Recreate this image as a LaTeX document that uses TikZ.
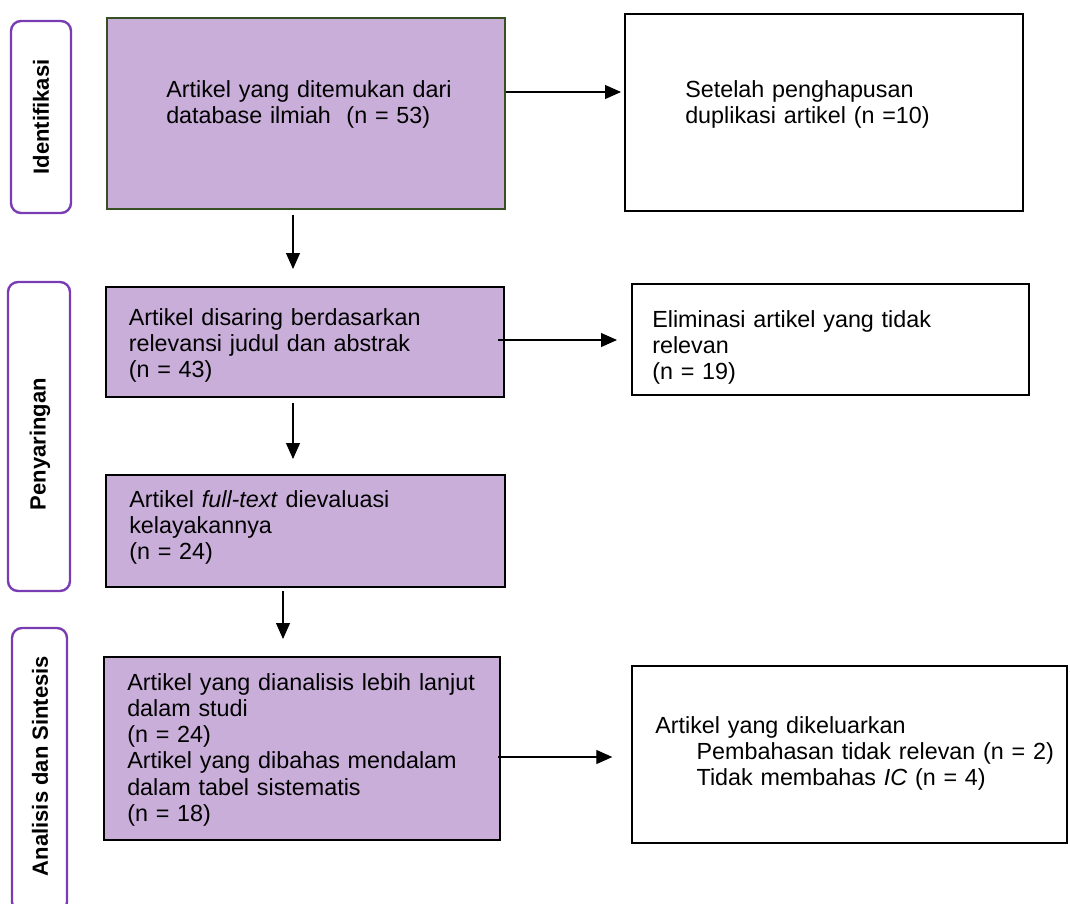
\documentclass[tikz,border=0pt]{standalone}
\usepackage{fontspec}
\setmainfont{Liberation Sans}
\usetikzlibrary{arrows.meta,fit}
\definecolor{boxfill}{RGB}{202,174,218}
\definecolor{sidepurple}{RGB}{122,60,178}
\definecolor{darkgreen}{RGB}{55,80,35}
\begin{document}
\begin{tikzpicture}[x=0.75pt,y=-0.75pt,
  box/.style={draw=black, line width=1.5pt, inner sep=0pt},
  pbox/.style={box, fill=boxfill},
  side/.style={draw=sidepurple, line width=1.8pt, rounded corners=7.5pt, inner sep=0pt},
  txt/.style={inner sep=0pt, anchor=base west, align=left, text width=330pt, font=\fontsize{17.5}{19.7}\selectfont},
  lab/.style={rotate=90, font=\fontsize{16.5}{19}\selectfont\bfseries, inner sep=0pt},
  arr/.style={-{Triangle[length=12pt,width=10.5pt]}, line width=0.8pt}]
\useasboundingbox (0,0) rectangle (1070,903);

% side labels
\node[side, fit={(11,21) (71,213)}] (s1) {};
\node[side, fit={(8,282) (70,591)}] (s2) {};
\node[side, fit={(12,628) (67,912)}] (s3) {};
\node[lab] (l1) at (s1.center) {Identifikasi};
\node[lab] (l2) at (40,444) {Penyaringan};
\node[lab] (l3) at (40,766) {Analisis\ dan\ Sintesis};

% boxes
\node[pbox, draw=darkgreen, line width=1.3pt, fit={(107,18) (505,209)}] (b1) {};
\node[box, fit={(625,14) (1023,211)}] (b2) {};
\node[pbox, fit={(106,287) (504,397)}] (b3) {};
\node[box, fit={(632,284) (1029,395)}] (b4) {};
\node[pbox, fit={(106,475) (505,587)}] (b5) {};
\node[pbox, fit={(104,657) (500,840)}] (b6) {};
\node[box, fit={(632,666) (1067,843)}] (b7) {};

% texts
\node[txt] (t1) at (166,97) {Artikel yang ditemukan dari\\database ilmiah\ \ (n = 53)};
\node[txt] (t2) at (685,97) {Setelah penghapusan\\duplikasi artikel (n =10)};
\node[txt] (t3) at (128.5,325) {Artikel disaring berdasarkan\\relevansi judul dan abstrak\\(n = 43)};
\node[txt] (t4) at (652,327) {Eliminasi artikel yang tidak\\relevan\\(n = 19)};
\node[txt] (t5) at (129,507) {Artikel \textit{full-text} dievaluasi\\kelayakannya\\(n = 24)};
\node[txt] (t6) at (127,690) {Artikel yang dianalisis lebih lanjut\\dalam studi\\(n = 24)\\Artikel yang dibahas mendalam\\dalam tabel sistematis\\(n = 18)};
\node[txt] (t7) at (655,733) {Artikel yang dikeluarkan\\\hspace*{31pt}Pembahasan tidak relevan (n = 2)\\\hspace*{31pt}Tidak membahas \textit{IC} (n = 4)};

% arrows
\draw[arr, shorten >=2.25pt] (b1.east |- 0,92) -- (b2.west |- 0,92);
\draw[arr, shorten <=3.75pt, shorten >=12.75pt] (b1.south -| 293,0) -- (b3.north -| 293,0);
\draw[arr, shorten <=-5.25pt, shorten >=10.5pt] (b3.east |- 0,340) -- (b4.west |- 0,340);
\draw[arr, shorten <=3.75pt, shorten >=11.25pt] (b3.south -| 293,0) -- (b5.north -| 293,0);
\draw[arr, shorten <=2.25pt, shorten >=12.75pt] (b5.south -| 283,0) -- (b6.north -| 283,0);
\draw[arr, shorten <=-2.25pt, shorten >=14pt] (b6.east |- 0,757) -- (b7.west |- 0,757);
\end{tikzpicture}
\end{document}
